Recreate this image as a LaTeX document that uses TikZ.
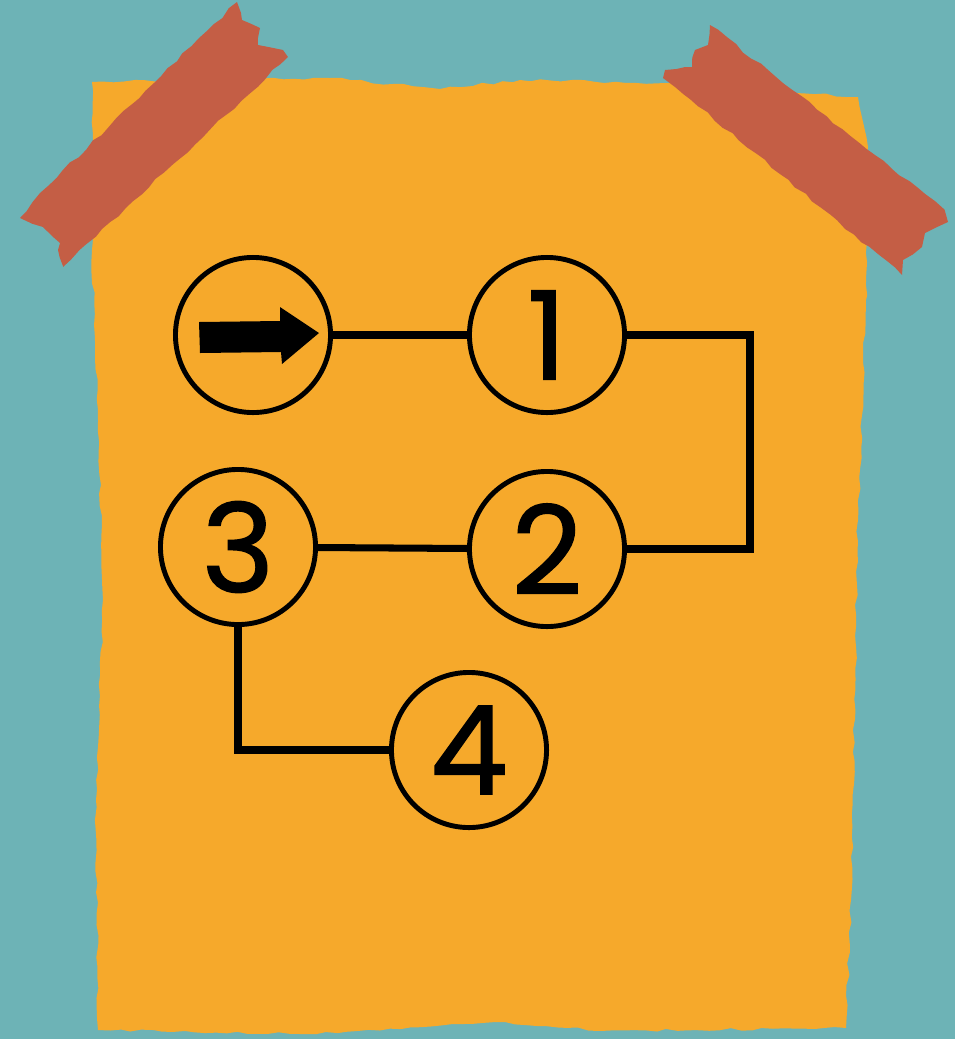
\documentclass[tikz,border=0pt]{standalone}
\usepackage{fontspec}
\newfontfamily\digitfont[FakeBold=1.2]{Poppins}
\usetikzlibrary{decorations.pathmorphing,calc}
\definecolor{bgteal}{HTML}{6DB3B6}
\definecolor{paperor}{HTML}{F6A92B}
\definecolor{tapered}{HTML}{C45E45}
\tikzset{
  stepcircle/.style={circle, draw=black, line width=1.4pt, minimum size=1.55cm, inner sep=0pt,
     font=\digitfont\fontsize{35}{35}\selectfont, text=black},
  conn/.style={draw=black, line width=2pt, line join=miter},
  ragged/.style={decorate, decoration={random steps, segment length=3pt, amplitude=0.4pt}},
}
\begin{document}
\begin{tikzpicture}[x=0.01cm, y=-0.01cm]
\pgfmathsetseed{7}
\useasboundingbox (0,0) rectangle (955,1039);
\fill[bgteal] (0,0) rectangle (955,1039);
% paper
\fill[paperor, ragged] (92,82) -- (220,80) -- (330,78) -- (440,89) -- (520,80) -- (700,84) -- (858,97)
  -- (868,147) -- (866,300) -- (858,520) -- (851,900) -- (846,1028) -- (600,1031) -- (505,1022) -- (300,1034)
  -- (98,1030) -- (96,800) -- (103,600) -- (98,420) -- (92,250) -- cycle;
% tapes
\fill[tapered, ragged] (237,2) -- (242,20) -- (260,28) -- (258,45) -- (283,50) -- (288,57)
  -- (63,267) -- (58,250) -- (60,243) -- (43,227) -- (20,218) -- (40,193) -- cycle;
\fill[tapered, ragged] (710,25) -- (945,210) -- (948,222) -- (925,233) -- (922,247) -- (903,260)
  -- (902,275) -- (675,87) -- (663,78) -- (665,70) -- (692,67) -- (695,50) -- (708,45) -- cycle;
% nodes
\node[stepcircle] (start) at (253,335) {};
\node[stepcircle] (n1) at (547,335) {1};
\node[stepcircle] (n2) at (547,549) {2};
\node[stepcircle] (n3) at (238,547) {3};
\node[stepcircle] (n4) at (469,750) {4};
\coordinate (rail) at (750,0);
% arrow in start circle
\fill[black] ($(start.center)+(-54,-13)$) -- ($(start.center)+(27,-14)$) -- ($(start.center)+(27,-28)$)
  -- ($(start.center)+(66,-2)$) -- ($(start.center)+(29,29)$) -- ($(start.center)+(28,17)$)
  -- ($(start.center)+(-53,18)$) -- cycle;
% connectors
\draw[conn] (start) -- (n1);
\draw[conn] (n1.east) -- (n1.east -| rail) -- (n2.east -| rail) -- (n2.east);
\draw[conn] (n3) -- (n2);
\draw[conn] (n3.south) -- (n3.south |- n4.west) -- (n4.west);
\end{tikzpicture}
\end{document}
